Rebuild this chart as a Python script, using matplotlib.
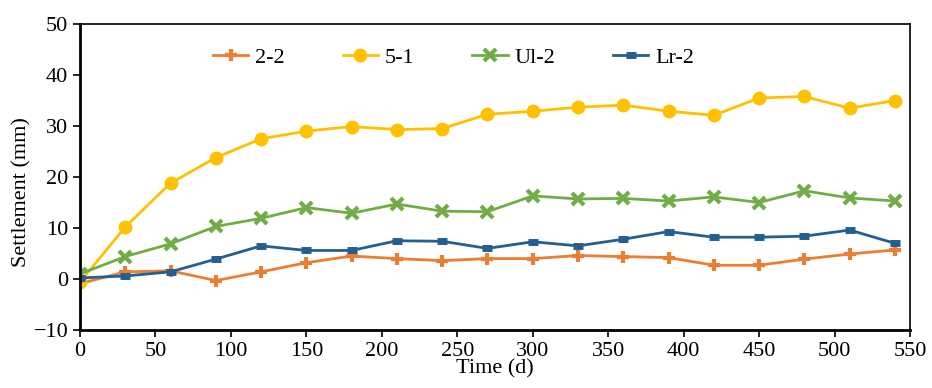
import numpy as np
import matplotlib
matplotlib.use('Agg')
from matplotlib import pyplot as plt

plt.rcParams['font.family'] = ['Liberation Serif', 'DejaVu Serif']

days = [0, 30, 60, 90, 120, 150, 180, 210, 240, 270, 300, 330, 360, 390, 420, 450, 480, 510, 540]
s_2_2 = [-0.9, 1.4, 1.6, -0.3, 1.4, 3.2, 4.5, 4.0, 3.6, 4.0, 4.0, 4.6, 4.4, 4.2, 2.7, 2.7, 3.9, 4.9, 5.7]
s_5_1 = [-0.6, 10.2, 18.8, 23.8, 27.5, 29.0, 29.9, 29.3, 29.5, 32.3, 32.9, 33.7, 34.1, 32.9, 32.1, 35.5, 35.8, 33.5, 35.0]
s_ul_2 = [1.0, 4.4, 6.9, 10.3, 11.9, 14.0, 12.9, 14.7, 13.3, 13.2, 16.3, 15.7, 15.8, 15.3, 16.1, 15.0, 17.3, 15.9, 15.3]
s_lr_2 = [0.2, 0.6, 1.4, 3.9, 6.5, 5.6, 5.6, 7.5, 7.4, 6.0, 7.3, 6.5, 7.8, 9.3, 8.2, 8.2, 8.4, 9.6, 7.0]

fig = plt.figure(figsize=(9.32, 3.88), dpi=100)
ax = fig.add_axes([0.0858, 0.1495, 0.8906, 0.7885])

lw = 2.0
ax.plot(days, s_2_2, color='#ED7D31', lw=lw, marker='+', ms=9, mew=3, label='2-2')
ax.plot(days, s_5_1, color='#FFC000', lw=lw, marker='o', ms=9, label='5-1')
ax.plot(days, s_ul_2, color='#70AD47', lw=lw, marker='x', ms=8, mew=3, label='Ul-2')
ax.plot(days, s_lr_2, color='#255E91', lw=lw, marker='_', ms=7, mew=5, label='Lr-2')

ax.set_xlim(0, 550)
ax.set_ylim(-10, 50)
ax.set_xticks(np.arange(0, 551, 50))
ax.set_yticks(np.arange(-10, 51, 10))
ax.tick_params(labelsize=16, direction='out', length=5, width=1.2)

for side in ['left', 'bottom']:
    ax.spines[side].set_linewidth(2)
for side in ['top', 'right']:
    ax.spines[side].set_linewidth(1.2)

ax.set_xlabel('Time (d)', fontsize=16, labelpad=-1)
ax.set_ylabel('Settlement (mm)', fontsize=16)
ax.yaxis.set_label_coords(-0.058, 0.45)

ax.legend(loc='center', bbox_to_anchor=(0.45, 0.89), ncol=4, frameon=False,
          fontsize=16, handlelength=1.6, columnspacing=2.6, handletextpad=0.3)

plt.savefig('out.png', dpi=100)
